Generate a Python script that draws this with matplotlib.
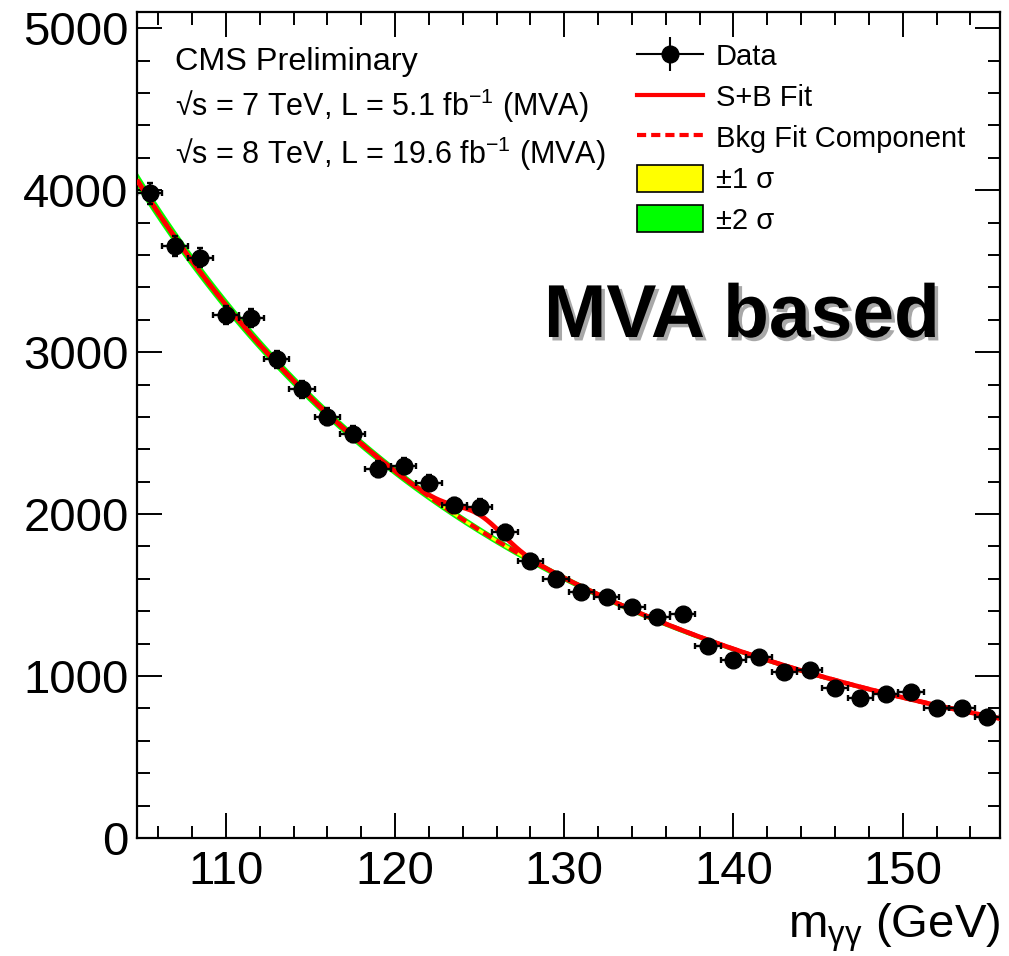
import numpy as np
import matplotlib
matplotlib.use("Agg")
import matplotlib.pyplot as plt
from matplotlib.lines import Line2D
from matplotlib.patches import Patch
from matplotlib.ticker import MultipleLocator
import matplotlib.patheffects as pe
from matplotlib.legend_handler import HandlerTuple

plt.rcParams['font.family'] = ['Liberation Sans', 'DejaVu Sans']
plt.rcParams['mathtext.default'] = 'regular'

# ---------------- data ----------------
mass = [105.5, 107.0, 108.5, 110.0, 111.5, 113.0, 114.5, 116.0, 117.5, 119.0,
        120.5, 122.0, 123.5, 125.0, 126.5, 128.0, 129.5, 131.0, 132.5, 134.0,
        135.5, 137.0, 138.5, 140.0, 141.5, 143.0, 144.5, 146.0, 147.5, 149.0,
        150.5, 152.0, 153.5, 155.0]
events = [3980, 3656, 3584, 3228, 3212, 2955, 2770, 2601, 2493, 2278,
          2298, 2193, 2056, 2045, 1889, 1710, 1600, 1517, 1486, 1428,
          1366, 1383, 1185, 1099, 1119, 1023, 1037, 924, 862, 889,
          899, 800, 804, 745]
bin_half_width = 0.75

# fit model parameters
bkg_norm = 3940.0      # background at reference mass
bkg_ref = 105.5
bkg_power = 4.3
sig_amp = 95.0
sig_mean = 125.0
sig_width = 1.4
band1_frac = 0.006     # +-1 sigma relative width
band2_frac = 0.012     # +-2 sigma relative width

x_range = (104.75, 155.75)
y_range = (0, 5100)

# ---------------- figure ----------------
W, H = 1009, 956
fig = plt.figure(figsize=(W / 100, H / 100), dpi=100)
ax = fig.add_axes([137 / W, 1 - 838 / H, (1000 - 137) / W, (838 - 12) / H])

xf = np.linspace(x_range[0], x_range[1], 600)
bkg = bkg_norm * (xf / bkg_ref) ** (-bkg_power)
sig = sig_amp * np.exp(-0.5 * ((xf - sig_mean) / sig_width) ** 2)
spb = bkg + sig

ax.fill_between(xf, bkg * (1 - band2_frac), bkg * (1 + band2_frac),
                color='#00ff00', lw=0, zorder=1)
ax.fill_between(xf, bkg * (1 - band1_frac), bkg * (1 + band1_frac),
                color='#ffff00', lw=0, zorder=2)
ax.plot(xf, bkg, color='red', lw=3.2, ls=(0, (2.2, 1.2)), zorder=3)
ax.plot(xf, spb, color='red', lw=3.4, zorder=4, solid_capstyle='butt')

ev = np.array(events, dtype=float)
ax.errorbar(mass, ev, xerr=bin_half_width, yerr=np.sqrt(ev), fmt='o',
            color='black', ms=12, elinewidth=1.7, capsize=2.4, capthick=1.7,
            zorder=5)

ax.set_xlim(*x_range)
ax.set_ylim(*y_range)
ax.xaxis.set_major_locator(MultipleLocator(10))
ax.xaxis.set_minor_locator(MultipleLocator(2))
ax.yaxis.set_major_locator(MultipleLocator(1000))
ax.yaxis.set_minor_locator(MultipleLocator(200))
ax.tick_params(which='both', direction='in', top=True, right=True,
               width=1.4, labelsize=34, color='black')
ax.tick_params(which='major', length=18)
ax.tick_params(axis='x', which='major', pad=9)
ax.tick_params(axis='y', which='major', pad=6)
ax.tick_params(which='minor', length=9)
for s in ax.spines.values():
    s.set_linewidth(1.6)

ax.set_xlabel(r'm$_{\gamma\gamma}$ (GeV)', fontsize=34, loc='right', labelpad=5)

def fx(px):
    return px / W

def fy(py):
    return 1 - py / H

fig.text(fx(175), fy(70), 'CMS Preliminary', fontsize=23.3, va='baseline')
fig.text(fx(175), fy(116), '√s = 7 TeV, L = 5.1 fb$^{-1}$ (MVA)', fontsize=22, va='baseline')
fig.text(fx(175), fy(164), '√s = 8 TeV, L = 19.6 fb$^{-1}$ (MVA)', fontsize=22, va='baseline')

fig.text(fx(742), fy(337), 'MVA based', fontsize=54, fontweight='bold',
         ha='center', va='baseline',
         path_effects=[pe.SimplePatchShadow(offset=(2.5, -2.5), shadow_rgbFace='#a8a8a8', alpha=1.0),
                       pe.Normal()])

# legend
h_data = (Line2D([], [], color='black', lw=1.5, marker='o', ms=12),
          Line2D([], [], color='black', ls='none', marker='|', ms=24, mew=1.5))
h_sb = Line2D([], [], color='red', lw=3)
h_bkg = Line2D([], [], color='red', lw=3, ls=(0, (2.2, 1.2)))
h_1s = Patch(facecolor='#ffff00', edgecolor='black', lw=1.2)
h_2s = Patch(facecolor='#00ff00', edgecolor='black', lw=1.2)
leg = fig.legend([h_data, h_sb, h_bkg, h_1s, h_2s],
                 ['Data', 'S+B Fit', 'Bkg Fit Component', '±1 σ', '±2 σ'],
                 handler_map={tuple: HandlerTuple(ndivide=1)},
                 loc='upper left', bbox_to_anchor=(fx(637), fy(42)),
                 frameon=False, fontsize=21, borderpad=0, borderaxespad=0,
                 handlelength=2.25, handleheight=1.05, handletextpad=0.45,
                 labelspacing=0.39, numpoints=1)

fig.savefig('out.png', dpi=100)
